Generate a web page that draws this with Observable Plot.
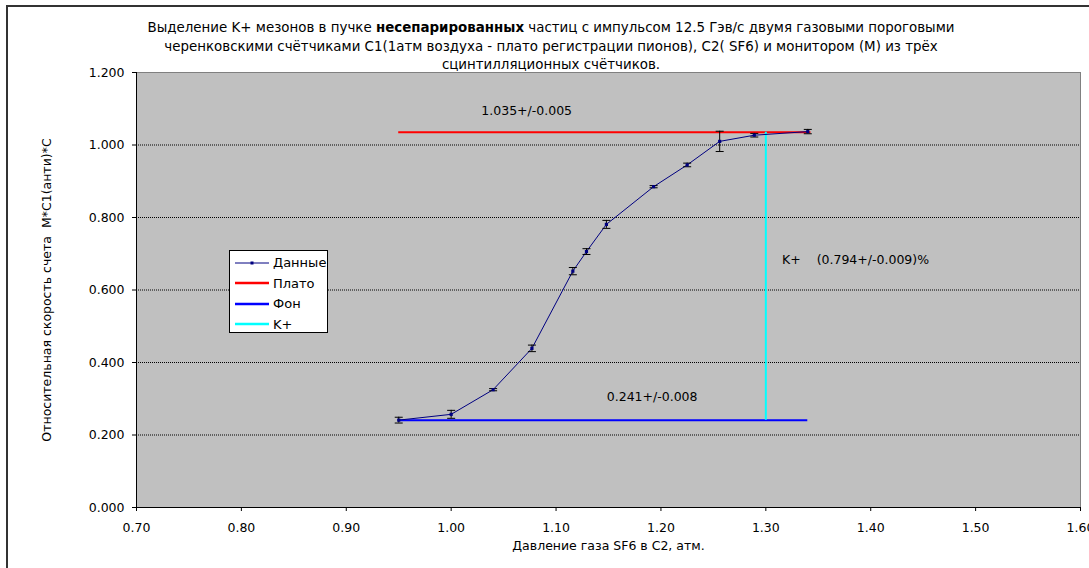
<!DOCTYPE html>
<html>
<head>
<meta charset="utf-8">
<script src="https://cdn.jsdelivr.net/npm/d3@7"></script>
<script src="https://cdn.jsdelivr.net/npm/@observablehq/plot@0.6"></script>
<style>
  html, body { margin: 0; padding: 0; background: #fff; overflow: hidden; }
  #chart { position: relative; width: 1089px; height: 568px; font-family: "DejaVu Sans", sans-serif; color: #000; }
  #outer { position: absolute; left: 6px; top: 5px; width: 1200px; height: 700px; border: 2px solid #333; box-sizing: border-box; }
  #title { position: absolute; left: 0; top: 19px; width: 1102px; text-align: center; font-size: 13.4px; line-height: 18.5px; }
  #plot { position: absolute; left: 0; top: 0; }
  #legend { position: absolute; left: 229px; top: 250px; width: 99px; height: 83px; background: #fff; border: 1px solid #000; box-sizing: border-box; font-size: 13px; }
  #legend .row { position: absolute; left: 5px; height: 20px; display: flex; align-items: center; }
  #legend .row span { margin-left: 4px; }
</style>
</head>
<body>
<div id="chart">
  <div id="outer"></div>
  <div id="title"></div>
  <div id="plot"></div>
  <div id="legend"></div>
</div>
<script>
// Threshold curve of the SF6 Cherenkov counter C2: relative count rate vs gas pressure
const pressure = [0.95, 1.00, 1.04, 1.077, 1.116, 1.129, 1.148, 1.193, 1.225, 1.256, 1.289, 1.340];
const rate     = [0.241, 0.257, 0.325, 0.439, 0.652, 0.706, 0.781, 0.885, 0.945, 1.010, 1.027, 1.037];
const rateErr  = [0.008, 0.011, 0.003, 0.009, 0.010, 0.008, 0.011, 0.003, 0.005, 0.028, 0.005, 0.006];

// Plateau (pions + kaons) and background levels, with their pressure spans
const plateauLevel = [1.035];
const plateauErr = [0.005];
const plateauSpan = [0.95, 1.343];
const backgroundLevel = [0.241];
const backgroundErr = [0.008];
const backgroundSpan = [0.95, 1.34];
const kaonPressure = [1.30];
const kaonFraction = [0.794];
const kaonFractionErr = [0.009];

const xTicks = [0.70, 0.80, 0.90, 1.00, 1.10, 1.20, 1.30, 1.40, 1.50, 1.60];
const yTicks = [0.0, 0.2, 0.4, 0.6, 0.8, 1.0, 1.2];

const legendLabels = ["Данные", "Плато", "Фон", "K+"];
const legendColors = ["#000080", "#ff0000", "#0000ff", "#00ffff"];

const titleLines = [
  'Выделение K+ мезонов в пучке <b>несепарированных</b> частиц с импульсом 12.5 Гэв/с двумя газовыми пороговыми',
  'черенковскими счётчиками C1(1атм воздуха - плато регистрации пионов), C2( SF6) и монитором (M) из трёх',
  'сцинтилляционных счётчиков.'
];
const xLabel = "Давление газа SF6 в C2, атм.";
const yLabel = "Относительная скорость счета\u00a0\u00a0M*C1(анти)*C";

const points = pressure.map((x, i) => ({x, y: rate[i], e: rateErr[i]}));

// horizontal cap for the error bars
const cap = {draw(ctx) { ctx.moveTo(-4, 0); ctx.lineTo(4, 0); }};

const fmt = d3.format(".3f");
const plateauText = `${fmt(plateauLevel[0])}+/-${fmt(plateauErr[0])}`;
const backgroundText = `${fmt(backgroundLevel[0])}+/-${fmt(backgroundErr[0])}`;
const kaonText = `K+\u00a0\u00a0\u00a0\u00a0(${fmt(kaonFraction[0])}+/-${fmt(kaonFractionErr[0])})%`;

const chart = Plot.plot({
  width: 1089,
  height: 568,
  marginLeft: 136,
  marginRight: 9,
  marginTop: 72,
  marginBottom: 61,
  style: {fontFamily: "DejaVu Sans, sans-serif", fontSize: "12.5px", color: "#000", background: "transparent", overflow: "visible"},
  x: {domain: [0.7, 1.6]},
  y: {domain: [0, 1.2]},
  marks: [
    Plot.frame({fill: "#c0c0c0", stroke: "#808080", strokeWidth: 1}),
    Plot.gridY({ticks: yTicks.filter(v => v > 0 && v < 1.2), stroke: "#000", strokeOpacity: 1, strokeDasharray: "1,1"}),
    Plot.ruleX([0.7], {stroke: "#000", strokeWidth: 1}),
    Plot.ruleY([0], {stroke: "#000", strokeWidth: 1}),
    Plot.axisX({ticks: xTicks, tickFormat: d3.format(".2f"), tickSize: 4, tickPadding: 12, label: null, stroke: "#000"}),
    Plot.axisY({ticks: yTicks, tickFormat: d3.format(".3f"), tickSize: 4, tickPadding: 8, label: null, stroke: "#000"}),
    // plateau, background and K+ markers
    Plot.ruleY(plateauLevel, {x1: plateauSpan[0], x2: plateauSpan[1], stroke: "#ff0000", strokeWidth: 2}),
    Plot.ruleY(backgroundLevel, {x1: backgroundSpan[0], x2: backgroundSpan[1], stroke: "#0000ff", strokeWidth: 2}),
    Plot.ruleX(kaonPressure, {y1: backgroundLevel[0], y2: plateauLevel[0], stroke: "#00ffff", strokeWidth: 2}),
    // measured curve
    Plot.line(points, {x: "x", y: "y", stroke: "#000080", strokeWidth: 1}),
    Plot.ruleX(points, {x: "x", y1: d => d.y - d.e, y2: d => d.y + d.e, stroke: "#000", strokeWidth: 1}),
    Plot.dot(points, {x: "x", y: d => d.y - d.e, symbol: cap, r: 3, stroke: "#000", strokeWidth: 1}),
    Plot.dot(points, {x: "x", y: d => d.y + d.e, symbol: cap, r: 3, stroke: "#000", strokeWidth: 1}),
    Plot.dot(points, {x: "x", y: "y", symbol: "square", r: 1.8, fill: "#000080"}),
    // value labels
    Plot.text([plateauText], {x: 1.072, y: 1.095, text: d => d, fill: "#000", fontSize: 12.5}),
    Plot.text([backgroundText], {x: 1.1916, y: 0.306, text: d => d, fill: "#000", fontSize: 12.5}),
    Plot.text([kaonText], {x: 1.3155, y: 0.684, text: d => d, textAnchor: "start", fill: "#000", fontSize: 12.5}),
    // axis titles
    Plot.text([xLabel], {frameAnchor: "bottom", dy: 42, text: d => d, fill: "#000", fontSize: 12.5}),
    Plot.text([yLabel], {frameAnchor: "left", textAnchor: "middle", dx: -90, rotate: -90, text: d => d, fill: "#000", fontSize: 12.5})
  ]
});
document.getElementById("plot").appendChild(chart);

document.getElementById("title").innerHTML = titleLines.join("<br>");

// legend box
const legend = document.getElementById("legend");
legendLabels.forEach((label, i) => {
  const row = document.createElement("div");
  row.className = "row";
  row.style.top = (1.5 + i * 20.5) + "px";
  const isData = i === 0;
  row.innerHTML =
    `<svg width="34" height="6"><line x1="0" y1="3" x2="34" y2="3" stroke="${legendColors[i]}" stroke-width="${isData ? 1 : 2.5}"/>` +
    (isData ? `<rect x="15.5" y="1.5" width="3" height="3" fill="${legendColors[i]}"/>` : "") +
    `</svg><span>${label}</span>`;
  legend.appendChild(row);
});
</script>
</body>
</html>
